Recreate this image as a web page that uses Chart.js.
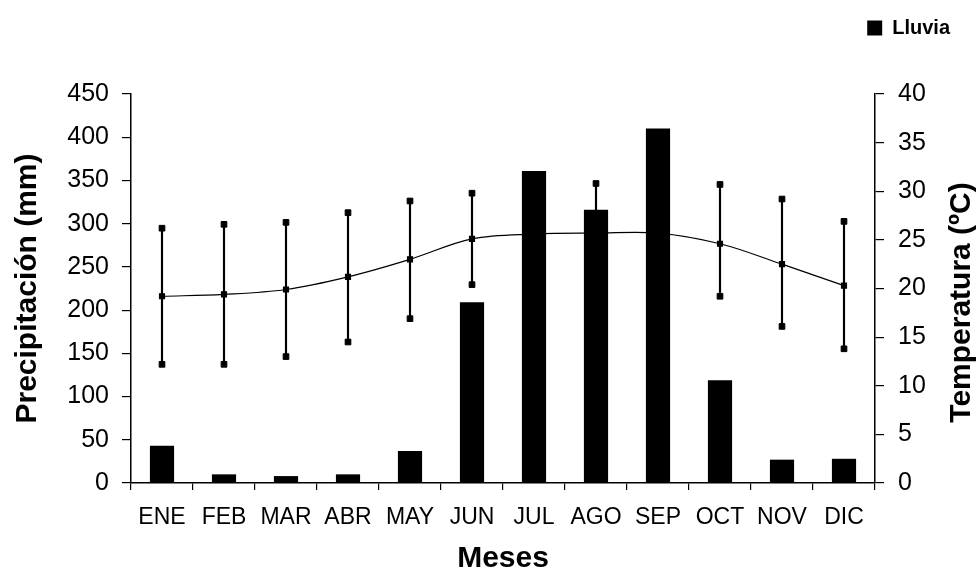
<!DOCTYPE html>
<html>
<head>
<meta charset="utf-8">
<script src="https://cdn.jsdelivr.net/npm/chart.js@4"></script>
<style>
  html, body { margin: 0; padding: 0; background: #fff; }
  #wrap { width: 977px; height: 569px; }
</style>
</head>
<body>
<div id="wrap"><canvas id="chart" width="977" height="569"></canvas></div>
<script>
const meses = ['ENE', 'FEB', 'MAR', 'ABR', 'MAY', 'JUN', 'JUL', 'AGO', 'SEP', 'OCT', 'NOV', 'DIC'];
const lluvia = [43, 10, 8, 10, 37, 209, 361, 316, 410, 119, 27, 28];
const tempMedia = [19.2, 19.4, 19.9, 21.2, 23.0, 25.1, 25.6, 25.7, 25.7, 24.6, 22.5, 20.3];
const tempMax = [26.2, 26.6, 26.8, 27.8, 29.0, 29.8, 30.5, 30.8, 31.0, 30.7, 29.2, 26.9];
const tempMin = [12.2, 12.2, 13.0, 14.5, 16.9, 20.4, 21.0, 21.0, 20.5, 19.2, 16.1, 13.8];

const FONT = "'Liberation Sans', Arial, sans-serif";
const NEGRO = '#000';

// deja hueco bajo la leyenda para que el area del grafico empiece mas abajo
const espacioLeyenda = {
  id: 'espacioLeyenda',
  afterInit(chart) {
    const fit = chart.legend.fit;
    chart.legend.fit = function () {
      fit.call(this);
      this.height += 46;
    };
  }
};

// titulo del eje derecho, leido de abajo hacia arriba como el izquierdo
const tituloDerecho = {
  id: 'tituloDerecho',
  afterDraw(chart) {
    const ctx = chart.ctx;
    ctx.save();
    ctx.translate(chart.width - 15, (chart.chartArea.top + chart.chartArea.bottom) / 2 + 14);
    ctx.rotate(-Math.PI / 2);
    ctx.font = `bold 30px ${FONT}`;
    ctx.fillStyle = NEGRO;
    ctx.textAlign = 'center';
    ctx.textBaseline = 'middle';
    ctx.fillText('Temperatura (ºC)', 0, 0);
    ctx.restore();
  }
};

new Chart(document.getElementById('chart'), {
  data: {
    labels: meses,
    datasets: [
      { type: 'bar', label: 'Lluvia', data: lluvia, yAxisID: 'y', backgroundColor: NEGRO,
        barPercentage: 0.39, categoryPercentage: 1, grouped: false, order: 0 },
      { type: 'bar', label: 'rango', data: tempMin.map((v, i) => [v, tempMax[i]]), yAxisID: 'y1',
        backgroundColor: NEGRO, barThickness: 1.5, grouped: false, borderSkipped: false, order: 3 },
      { type: 'line', label: 'max', data: tempMax, yAxisID: 'y1', showLine: false,
        pointStyle: 'rect', pointRadius: 4, backgroundColor: NEGRO, borderColor: NEGRO, order: 2 },
      { type: 'line', label: 'min', data: tempMin, yAxisID: 'y1', showLine: false,
        pointStyle: 'rect', pointRadius: 4, backgroundColor: NEGRO, borderColor: NEGRO, order: 2 },
      { type: 'line', label: 'media', data: tempMedia, yAxisID: 'y1', borderColor: NEGRO, borderWidth: 1.2,
        tension: 0.35, pointStyle: 'rect', pointRadius: 3.5, backgroundColor: NEGRO, order: 1 }
    ]
  },
  options: {
    responsive: false,
    animation: false,
    layout: { padding: { left: 6, right: 17, top: 8, bottom: 0 } },
    plugins: {
      tooltip: { enabled: false },
      legend: {
        position: 'top', align: 'end',
        labels: {
          filter: (item) => item.datasetIndex === 0,
          color: NEGRO, boxWidth: 15, boxHeight: 15, padding: 10,
          font: { family: FONT, size: 20, weight: 'bold' }
        }
      }
    },
    scales: {
      x: {
        offset: true,
        border: { color: NEGRO, width: 1.5 },
        grid: { display: true, offset: true, drawOnChartArea: false, color: NEGRO, tickLength: 7, lineWidth: 1.2 },
        ticks: { color: NEGRO, padding: 14, maxRotation: 0, autoSkip: false, font: { family: FONT, size: 23 } },
        title: { display: true, text: 'Meses', color: NEGRO, padding: 0,
          font: { family: FONT, size: 30, weight: 'bold', lineHeight: 0.7 } },
        afterFit: (s) => { s.height = 569 - 483; }
      },
      y: {
        position: 'left', min: 0, max: 450,
        border: { color: NEGRO, width: 1.5 },
        grid: { drawOnChartArea: false, color: NEGRO, tickLength: 9, lineWidth: 1.2 },
        ticks: { stepSize: 50, color: NEGRO, padding: 13, font: { family: FONT, size: 25 } },
        title: { display: true, text: 'Precipitación (mm)', color: NEGRO, padding: { top: 4, bottom: 4 },
          font: { family: FONT, size: 30, weight: 'bold' } },
        afterFit: (s) => { s.width = 131 - 6; }
      },
      y1: {
        position: 'right', min: 0, max: 40,
        border: { color: NEGRO, width: 1.5 },
        grid: { drawOnChartArea: false, color: NEGRO, tickLength: 9, lineWidth: 1.2 },
        ticks: { stepSize: 5, color: NEGRO, padding: 14, font: { family: FONT, size: 25 } },
        afterFit: (s) => { s.width = 977 - 875 - 17; }
      }
    }
  },
  plugins: [espacioLeyenda, tituloDerecho]
});
</script>
</body>
</html>
